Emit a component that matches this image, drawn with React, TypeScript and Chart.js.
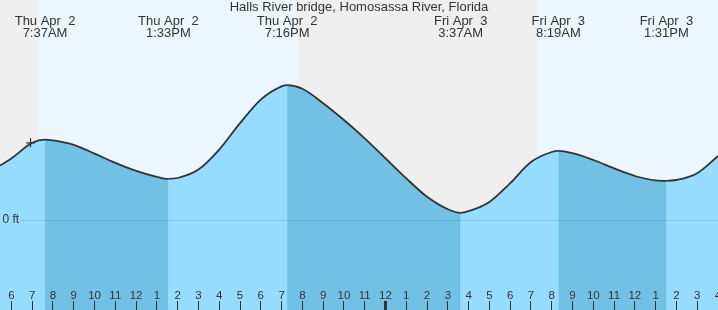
import React, { useEffect, useRef } from 'react';
import { Chart, registerables } from 'chart.js';

Chart.register(...registerables);

const TITLE = 'Halls River bridge, Homosassa River, Florida';

// x axis: hours counted from Thu Apr 2, 00:00
const X_MIN = 5.45;
const X_MAX = 40;
const Y_MIN = -2.25;
const Y_MAX = 5.5;

const tideHours = [
  5.45, 6, 7, 7.617, 8, 9, 10, 11, 12, 13, 13.55, 14, 15, 16, 17, 18, 19, 19.267,
  20, 21, 22, 23, 24, 25, 26, 27, 27.617, 28, 29, 30, 31, 32, 32.317, 33, 34, 35,
  36, 37, 37.517, 38, 39, 40,
];
const tideFeet = [
  1.36, 1.54, 1.93, 2.01, 1.99, 1.88, 1.66, 1.43, 1.23, 1.08, 1.03, 1.05, 1.26, 1.76,
  2.42, 3.01, 3.34, 3.37, 3.28, 2.92, 2.5, 2.04, 1.54, 1.04, 0.58, 0.27, 0.18, 0.22,
  0.45, 0.92, 1.45, 1.7, 1.73, 1.67, 1.5, 1.29, 1.1, 0.99, 0.98, 1.0, 1.17, 1.6,
];

const eventHours = [7.617, 13.55, 19.267, 27.617, 32.317, 37.517];
const eventDates = ['Thu Apr  2', 'Thu Apr  2', 'Thu Apr  2', 'Fri Apr  3', 'Fri Apr  3', 'Fri Apr  3'];
const eventTimes = ['7:37AM', '1:33PM', '7:16PM', '3:37AM', '8:19AM', '1:31PM'];

const hourTicks = [
  6, 7, 8, 9, 10, 11, 12, 13, 14, 15, 16, 17, 18, 19, 20, 21, 22, 23, 24, 25, 26, 27,
  28, 29, 30, 31, 32, 33, 34, 35, 36, 37, 38, 39, 40,
];
const yTicks = [0];

const nightStarts = [0, 19.79];
const nightEnds = [7.29, 31.29];

const nowHour = [6.92];
const nowFeet = [1.93];

const DAY_BG = '#ebf6ff';
const NIGHT_BG = '#efefef';
const RISING_FILL = '#96dcfd';
const FALLING_FILL = '#72c1e5';
const CLEAR = 'rgba(0,0,0,0)';
const LINE_COLOR = '#333333';
const TEXT_COLOR = '#333333';

const hourLabel = (v: number) => String(((v % 12) + 12) % 12 || 12);

const zeroBox = (s: any, horizontal: boolean) => {
  if (horizontal) s.height = 0;
  else s.width = 0;
  s.paddingLeft = 0;
  s.paddingRight = 0;
  s.paddingTop = 0;
  s.paddingBottom = 0;
};

const backgroundPlugin = {
  id: 'dayNight',
  beforeDraw(chart: any) {
    const { ctx, chartArea, scales } = chart;
    const xs = scales.x;
    ctx.save();
    ctx.fillStyle = DAY_BG;
    ctx.fillRect(0, 0, chart.width, chart.height);
    ctx.fillStyle = NIGHT_BG;
    for (let i = 0; i < nightStarts.length; i++) {
      const x1 = Math.max(chartArea.left, xs.getPixelForValue(nightStarts[i]));
      const x2 = Math.min(chartArea.right, xs.getPixelForValue(nightEnds[i]));
      if (x2 > x1) ctx.fillRect(x1, 0, x2 - x1, chart.height);
    }
    ctx.restore();
  },
};

export default function App() {
  const ref = useRef<HTMLCanvasElement | null>(null);

  useEffect(() => {
    if (!ref.current) return;
    Chart.defaults.font.family = '"Liberation Sans", Arial, sans-serif';
    const tidePoints = tideHours.map((h, i) => ({ x: h, y: tideFeet[i] }));
    const chart = new Chart(ref.current, {
      type: 'line',
      data: {
        datasets: [
          {
            label: 'now',
            data: nowHour.map((h, i) => ({ x: h, y: nowFeet[i] })),
            showLine: false,
            pointStyle: 'cross',
            pointRadius: 4.5,
            pointBorderColor: LINE_COLOR,
            pointBorderWidth: 1.2,
            borderColor: LINE_COLOR,
            order: 0,
          },
          {
            label: 'tide',
            data: tidePoints,
            borderColor: LINE_COLOR,
            borderWidth: 1.8,
            pointRadius: 0,
            cubicInterpolationMode: 'monotone',
            fill: 'start',
            backgroundColor: CLEAR,
            segment: {
              backgroundColor: (c: any) =>
                c.p1.parsed.y < c.p0.parsed.y ? FALLING_FILL : CLEAR,
            },
            order: 1,
          },
          {
            label: 'water',
            data: tidePoints,
            borderWidth: 0,
            borderColor: CLEAR,
            pointRadius: 0,
            cubicInterpolationMode: 'monotone',
            fill: 'start',
            backgroundColor: RISING_FILL,
            order: 2,
          },
        ],
      },
      options: {
        animation: false,
        responsive: false,
        events: [],
        layout: { padding: 0, autoPadding: false },
        plugins: {
          legend: { display: false },
          tooltip: { enabled: false },
          title: {
            display: true,
            text: TITLE,
            color: TEXT_COLOR,
            font: { size: 13, weight: 'normal', lineHeight: '14px' },
            padding: { top: 0, bottom: -14 },
          },
        },
        scales: {
          x: {
            type: 'linear',
            position: 'bottom',
            min: X_MIN,
            max: X_MAX,
            afterBuildTicks: (s: any) => {
              s.ticks = hourTicks.map((v) => ({ value: v }));
            },
            afterFit: (s: any) => zeroBox(s, true),
            grid: {
              display: true,
              drawOnChartArea: false,
              drawTicks: true,
              tickLength: -9,
              color: LINE_COLOR,
              lineWidth: (c: any) => (c.tick && c.tick.value % 24 === 0 ? 3 : 1),
              z: 1,
            },
            border: { display: false },
            ticks: {
              mirror: true,
              autoSkip: false,
              maxRotation: 0,
              minRotation: 0,
              padding: 6.9,
              color: TEXT_COLOR,
              font: { size: 11.5 },
              callback: (v: any) => hourLabel(Number(v)),
              z: 2,
            },
          },
          x2: {
            type: 'linear',
            position: 'top',
            min: X_MIN,
            max: X_MAX,
            afterBuildTicks: (s: any) => {
              s.ticks = eventHours.map((v) => ({ value: v }));
            },
            afterFit: (s: any) => zeroBox(s, true),
            grid: { display: false, drawTicks: false, drawOnChartArea: false },
            border: { display: false },
            ticks: {
              mirror: true,
              autoSkip: false,
              maxRotation: 0,
              minRotation: 0,
              padding: 3,
              color: TEXT_COLOR,
              font: { size: 13, lineHeight: '12px' },
              callback: (_v: any, i: number) => [eventDates[i], eventTimes[i]],
            },
          },
          y: {
            type: 'linear',
            position: 'left',
            min: Y_MIN,
            max: Y_MAX,
            afterBuildTicks: (s: any) => {
              s.ticks = yTicks.map((v) => ({ value: v }));
            },
            afterFit: (s: any) => zeroBox(s, false),
            grid: {
              display: true,
              drawOnChartArea: true,
              drawTicks: false,
              color: 'rgba(0, 80, 140, 0.14)',
              lineWidth: 1,
              z: 1,
            },
            border: { display: false },
            ticks: {
              mirror: true,
              padding: 2.5,
              color: TEXT_COLOR,
              font: { size: 12 },
              callback: (v: any) => `${v} ft`,
              showLabelBackdrop: true,
              backdropColor: RISING_FILL,
              backdropPadding: { left: 3, right: 2.5, top: 2, bottom: 2 },
              z: 2,
            },
          },
        },
      },
      plugins: [backgroundPlugin],
    } as any);
    return () => chart.destroy();
  }, []);

  return (
    <div style={{ position: 'absolute', left: 0, top: 0, width: 718, height: 310 }}>
      <canvas ref={ref} width={718} height={310} style={{ display: 'block', width: 718, height: 310 }} />
    </div>
  );
}
